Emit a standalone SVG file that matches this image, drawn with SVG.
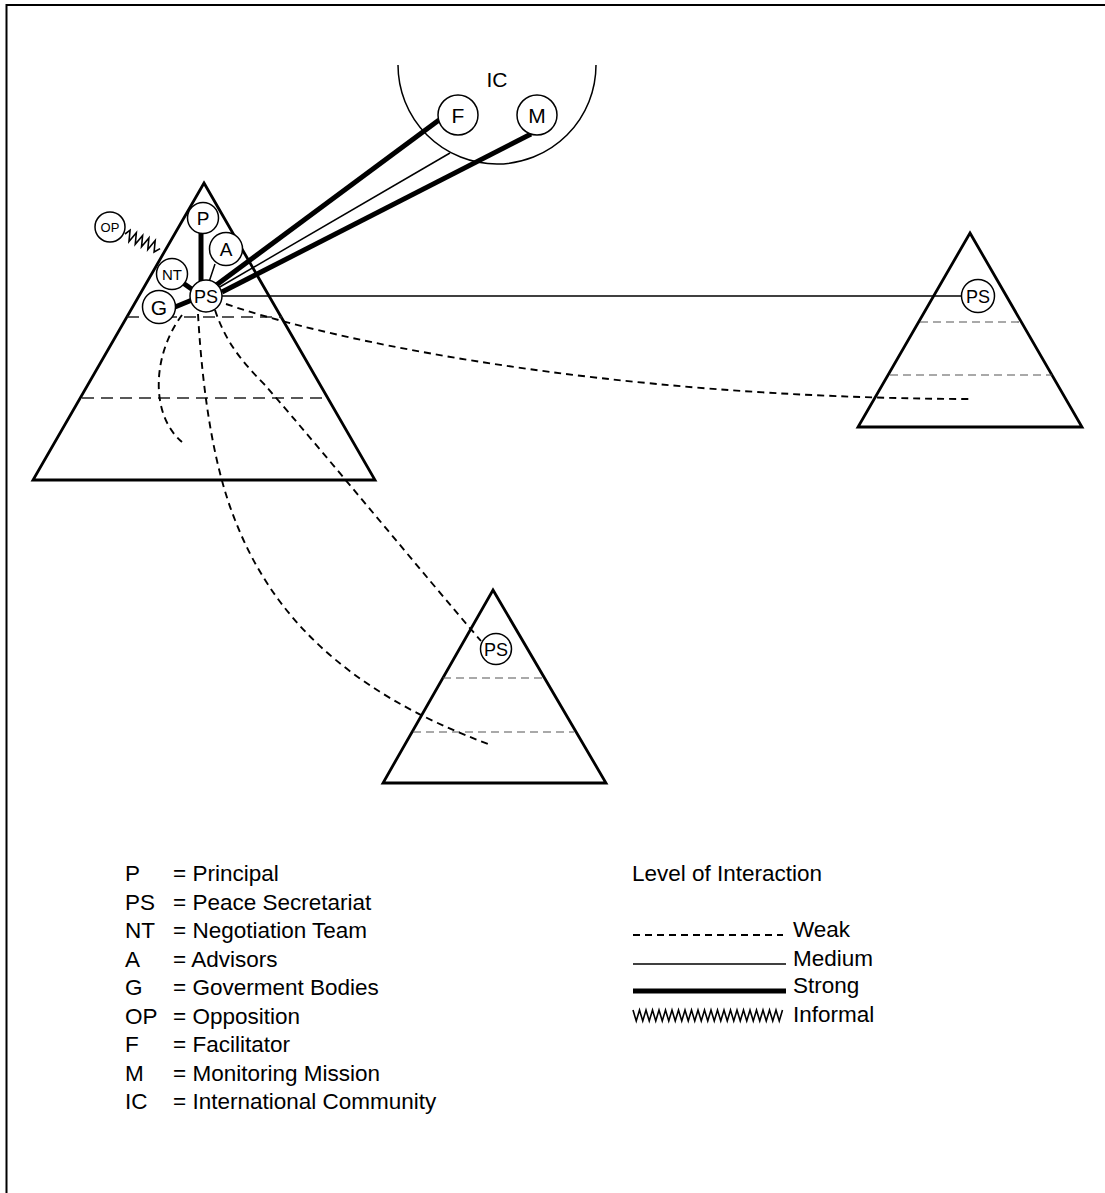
<svg xmlns="http://www.w3.org/2000/svg" width="1105" height="1193" viewBox="0 0 1105 1193">
  <style>
    .frame { fill: none; stroke: #000; stroke-width: 2; }
    .pyramid { fill: none; stroke: #000; stroke-width: 2.8; stroke-linejoin: miter; }
    .tier-main { stroke: #222; stroke-width: 1.5; stroke-dasharray: 12 7; fill: none; }
    .tier { stroke: #555; stroke-width: 1.2; stroke-dasharray: 8 5; fill: none; }
    .node circle { fill: #fff; stroke: #000; stroke-width: 1.5; }
    .node text, .label { font-family: "Liberation Sans", Arial, sans-serif; text-anchor: middle; fill: #000; }
    .weak { fill: none; stroke: #000; stroke-width: 1.9; stroke-dasharray: 7 5; }
    .medium { fill: none; stroke: #000; stroke-width: 1.5; }
    .strong { fill: none; stroke: #000; stroke-width: 5; }
    .informal { fill: none; stroke: #000; stroke-width: 1.6; stroke-linejoin: miter; }
    .legend { font-family: "Liberation Sans", Arial, sans-serif; font-size: 22.5px; fill: #000; }
  </style>

  <rect width="1105" height="1193" fill="#fff"/>
  <path class="frame" d="M6.5,1193 V5 H1105"/>

  <!-- International Community boundary -->
  <g id="ic">
    <path d="M398,65 A99,99 0 0 0 596,65" fill="none" stroke="#000" stroke-width="1.5"/>
    <text class="label" x="497" y="87" font-size="21">IC</text>
  </g>

  <!-- Left pyramid with tiers -->
  <g id="pyramid-left">
    <polygon class="pyramid" points="204,183 375,480 33,480"/>
    <line class="tier-main" x1="127" y1="317" x2="282" y2="317"/>
    <line class="tier-main" x1="82" y1="398" x2="328" y2="398"/>
  </g>

  <!-- Right pyramid with tiers -->
  <g id="pyramid-right">
    <polygon class="pyramid" points="970,233 1082,427 858,427"/>
    <line class="tier" x1="920" y1="322" x2="1020" y2="322"/>
    <line class="tier" x1="890" y1="375" x2="1052" y2="375"/>
  </g>

  <!-- Bottom pyramid with tiers -->
  <g id="pyramid-bottom">
    <polygon class="pyramid" points="493,590 606,783 383,783"/>
    <line class="tier" x1="443" y1="678" x2="543" y2="678"/>
    <line class="tier" x1="413" y1="732" x2="574" y2="732"/>
  </g>

  <!-- Links between actors -->
  <g id="connectors">
    <!-- weak -->
    <path class="weak" d="M226,304 C330,340 600,398 970,399"/>
    <path class="weak" d="M215,310 C225,340 240,360 265,385 C330,460 420,570 481,641"/>
    <path class="weak" d="M198,314 C203,400 215,470 235,520 C270,610 340,690 491,745"/>
    <path class="weak" d="M182,315 C152,355 150,415 182,442"/>
    <!-- medium -->
    <line class="medium" x1="222" y1="296" x2="962" y2="296"/>
    <line class="medium" x1="218" y1="288" x2="450" y2="153"/>
    <line class="medium" x1="215" y1="264" x2="209" y2="282"/>
    <!-- strong -->
    <line class="strong" x1="215" y1="286" x2="439" y2="120"/>
    <line class="strong" x1="222" y1="292" x2="531" y2="134"/>
    <line class="strong" x1="201" y1="233" x2="201" y2="281" stroke-width="4.5"/>
    <line class="strong" x1="183" y1="283" x2="193" y2="290" stroke-width="4"/>
    <line class="strong" x1="175" y1="307" x2="192" y2="300"/>
    <!-- informal -->
    <polyline class="informal" transform="translate(125,234) rotate(22.6)" points="0,0 3.2,-5.5 6.6,5.5 10,-5.5 13.4,5.5 16.8,-5.5 20.2,5.5 23.6,-5.5 27,5.5 30.4,-5.5 33.8,5.5 38,0"/>
  </g>

  <!-- Actors -->
  <g id="node-p" class="node"><circle cx="203" cy="218" r="15.5"/><text x="203" y="225" font-size="19">P</text></g>
  <g id="node-a" class="node"><circle cx="226" cy="249" r="16.5"/><text x="226" y="256" font-size="19">A</text></g>
  <g id="node-nt" class="node"><circle cx="172" cy="274" r="15.5"/><text x="172" y="279.5" font-size="15">NT</text></g>
  <g id="node-g" class="node"><circle cx="159" cy="307" r="16.5"/><text x="159" y="314.5" font-size="21">G</text></g>
  <g id="node-ps" class="node"><circle cx="206" cy="296" r="16"/><text x="206" y="302.5" font-size="18">PS</text></g>
  <g id="node-op" class="node"><circle cx="110" cy="227" r="15"/><text x="110" y="231.7" font-size="13">OP</text></g>
  <g id="node-f" class="node"><circle cx="458" cy="115" r="20"/><text x="458" y="122.5" font-size="21">F</text></g>
  <g id="node-m" class="node"><circle cx="537" cy="115" r="20"/><text x="537" y="122.5" font-size="21">M</text></g>
  <g id="node-ps-right" class="node"><circle cx="978" cy="296" r="16.5"/><text x="978" y="302.5" font-size="18">PS</text></g>
  <g id="node-ps-bottom" class="node"><circle cx="496" cy="649" r="15.5"/><text x="496" y="655.5" font-size="18">PS</text></g>

  <!-- Key: abbreviations -->
  <g id="legend-abbrev" class="legend">
    <text x="125" y="881">P</text><text x="173" y="881">= Principal</text>
    <text x="125" y="909.5">PS</text><text x="173" y="909.5">= Peace Secretariat</text>
    <text x="125" y="938">NT</text><text x="173" y="938">= Negotiation Team</text>
    <text x="125" y="966.5">A</text><text x="173" y="966.5">= Advisors</text>
    <text x="125" y="995">G</text><text x="173" y="995">= Goverment Bodies</text>
    <text x="125" y="1023.5">OP</text><text x="173" y="1023.5">= Opposition</text>
    <text x="125" y="1052">F</text><text x="173" y="1052">= Facilitator</text>
    <text x="125" y="1080.5">M</text><text x="173" y="1080.5">= Monitoring Mission</text>
    <text x="125" y="1109">IC</text><text x="173" y="1109">= International Community</text>
  </g>

  <!-- Key: interaction levels -->
  <g id="legend-levels" class="legend">
    <text x="632" y="881">Level of Interaction</text>
    <line class="weak" x1="633" y1="935" x2="783" y2="935" stroke-width="1.5" stroke-dasharray="7 5.6"/>
    <text x="793" y="937">Weak</text>
    <line class="medium" x1="633" y1="964" x2="786" y2="964"/>
    <text x="793" y="966">Medium</text>
    <line class="strong" x1="633" y1="991" x2="786" y2="991"/>
    <text x="793" y="993">Strong</text>
    <path class="informal" stroke-width="1.3" d="M633,1010 l3.25,11 3.25,-11 3.25,11 3.25,-11 3.25,11 3.25,-11 3.25,11 3.25,-11 3.25,11 3.25,-11 3.25,11 3.25,-11 3.25,11 3.25,-11 3.25,11 3.25,-11 3.25,11 3.25,-11 3.25,11 3.25,-11 3.25,11 3.25,-11 3.25,11 3.25,-11 3.25,11 3.25,-11 3.25,11 3.25,-11 3.25,11 3.25,-11 3.25,11 3.25,-11 3.25,11 3.25,-11 3.25,11 3.25,-11 3.25,11 3.25,-11 3.25,11 3.25,-11 3.25,11 3.25,-11 3.25,11 3.25,-11 3.25,11 3.25,-11"/>
    <text x="793" y="1022">Informal</text>
  </g>
</svg>
